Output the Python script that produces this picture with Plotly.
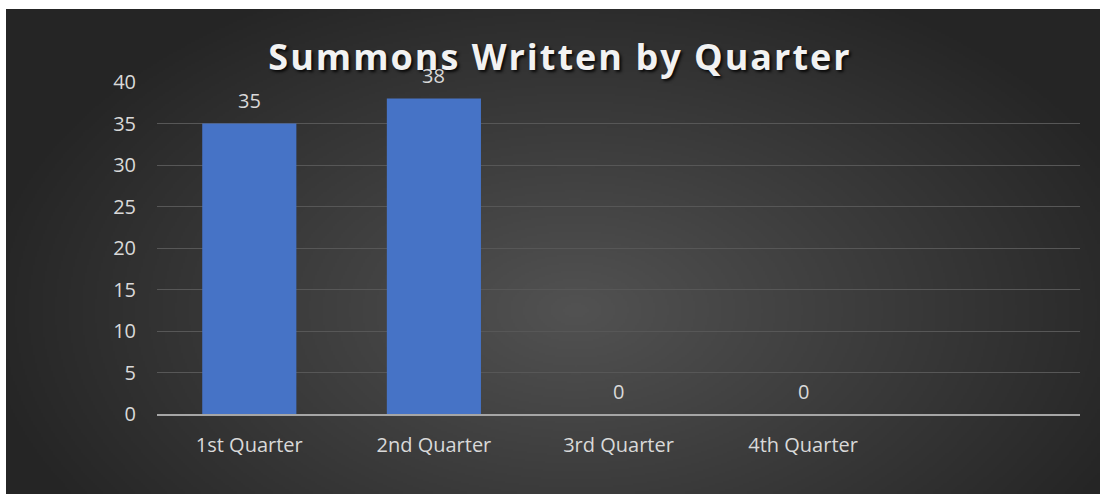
import plotly.graph_objects as go
import numpy as np
import zlib, struct, base64

# ---- data ----
categories = ["1st Quarter", "2nd Quarter", "3rd Quarter", "4th Quarter"]
summons = [35, 38, 0, 0]
y_tick_values = [0, 5, 10, 15, 20, 25, 30, 35, 40]
title_text = "Summons Written by Quarter"


def png_data_uri(arr):
    h, w, _ = arr.shape
    raw = b"".join(b"\x00" + arr[i].tobytes() for i in range(h))

    def chunk(t, d):
        c = struct.pack(">I", len(d)) + t + d
        return c + struct.pack(">I", zlib.crc32(t + d) & 0xFFFFFFFF)

    png = (b"\x89PNG\r\n\x1a\n"
           + chunk(b"IHDR", struct.pack(">IIBBBBB", w, h, 8, 2, 0, 0, 0))
           + chunk(b"IDAT", zlib.compress(raw, 9))
           + chunk(b"IEND", b""))
    return "data:image/png;base64," + base64.b64encode(png).decode()


# radial dark background
W, H = 547, 243
yy, xx = np.mgrid[0:H, 0:W]
cx, cy = 0.52 * W, 0.62 * H
r = np.sqrt(((xx - cx) / (0.55 * W)) ** 2 + ((yy - cy) / (0.75 * H)) ** 2)
t = np.clip(r, 0, 1)
inner, outer = 82, 37
v = (inner + (outer - inner) * t).astype(np.uint8)
bg = np.stack([v, v, v], axis=-1)
bg_uri = png_data_uri(bg)

# layout geometry (pixels)
FW, FH = 1108, 502
PL, PR, PT, PB = 157, 1080, 82, 414
pw, ph = PR - PL, PB - PT

LABEL_FONT = dict(family="Open Sans", size=20, color="#d9d9d9")

fig = go.Figure()
fig.add_trace(go.Bar(
    x=categories,
    y=summons,
    marker=dict(color="#4673C6", line=dict(width=0)),
    hoverinfo="x+y",
))

for c, val in zip(categories, summons):
    fig.add_annotation(
        x=c, y=val, xref="x", yref="y",
        text=str(val), showarrow=False,
        yanchor="middle", yshift=23,
        font=LABEL_FONT,
    )

fig.add_layout_image(dict(
    source=bg_uri,
    xref="paper", yref="paper",
    x=(6 - PL) / pw, y=(PB - 9) / ph,
    sizex=(1100 - 6) / pw, sizey=(494 - 9) / ph,
    xanchor="left", yanchor="top",
    sizing="stretch", layer="below",
))

fig.update_layout(
    width=FW, height=FH,
    margin=dict(l=PL, r=FW - PR, t=PT, b=FH - PB, pad=0),
    paper_bgcolor="white",
    plot_bgcolor="rgba(0,0,0,0)",
    showlegend=False,
    bargap=0.49,
    title=dict(
        text='<span style="letter-spacing:2px">' + title_text + "</span>",
        font=dict(family="Open Sans", size=36, color="#f2f2f2", weight="bold",
                  shadow="2px 2px 3px rgba(0,0,0,0.85)"),
        xref="container", yref="container",
        x=560 / FW, y=1 - 57 / FH,
        xanchor="center", yanchor="middle",
    ),
    xaxis=dict(
        range=[-0.5, 4.5],
        showgrid=False,
        showline=True, linecolor="#a6a6a6", linewidth=2,
        ticks="", tickfont=LABEL_FONT,
        ticklabelstandoff=12,
        zeroline=False,
        fixedrange=True,
    ),
    yaxis=dict(
        range=[0, 40],
        tickvals=y_tick_values,
        showgrid=True, gridcolor="#575757", gridwidth=1,
        showline=False, zeroline=False, ticks="",
        tickfont=LABEL_FONT,
        ticklabelstandoff=20,
        fixedrange=True,
    ),
)

fig.write_html("out.html", config={"displayModeBar": False},
               post_script="document.body.style.margin='0';")
